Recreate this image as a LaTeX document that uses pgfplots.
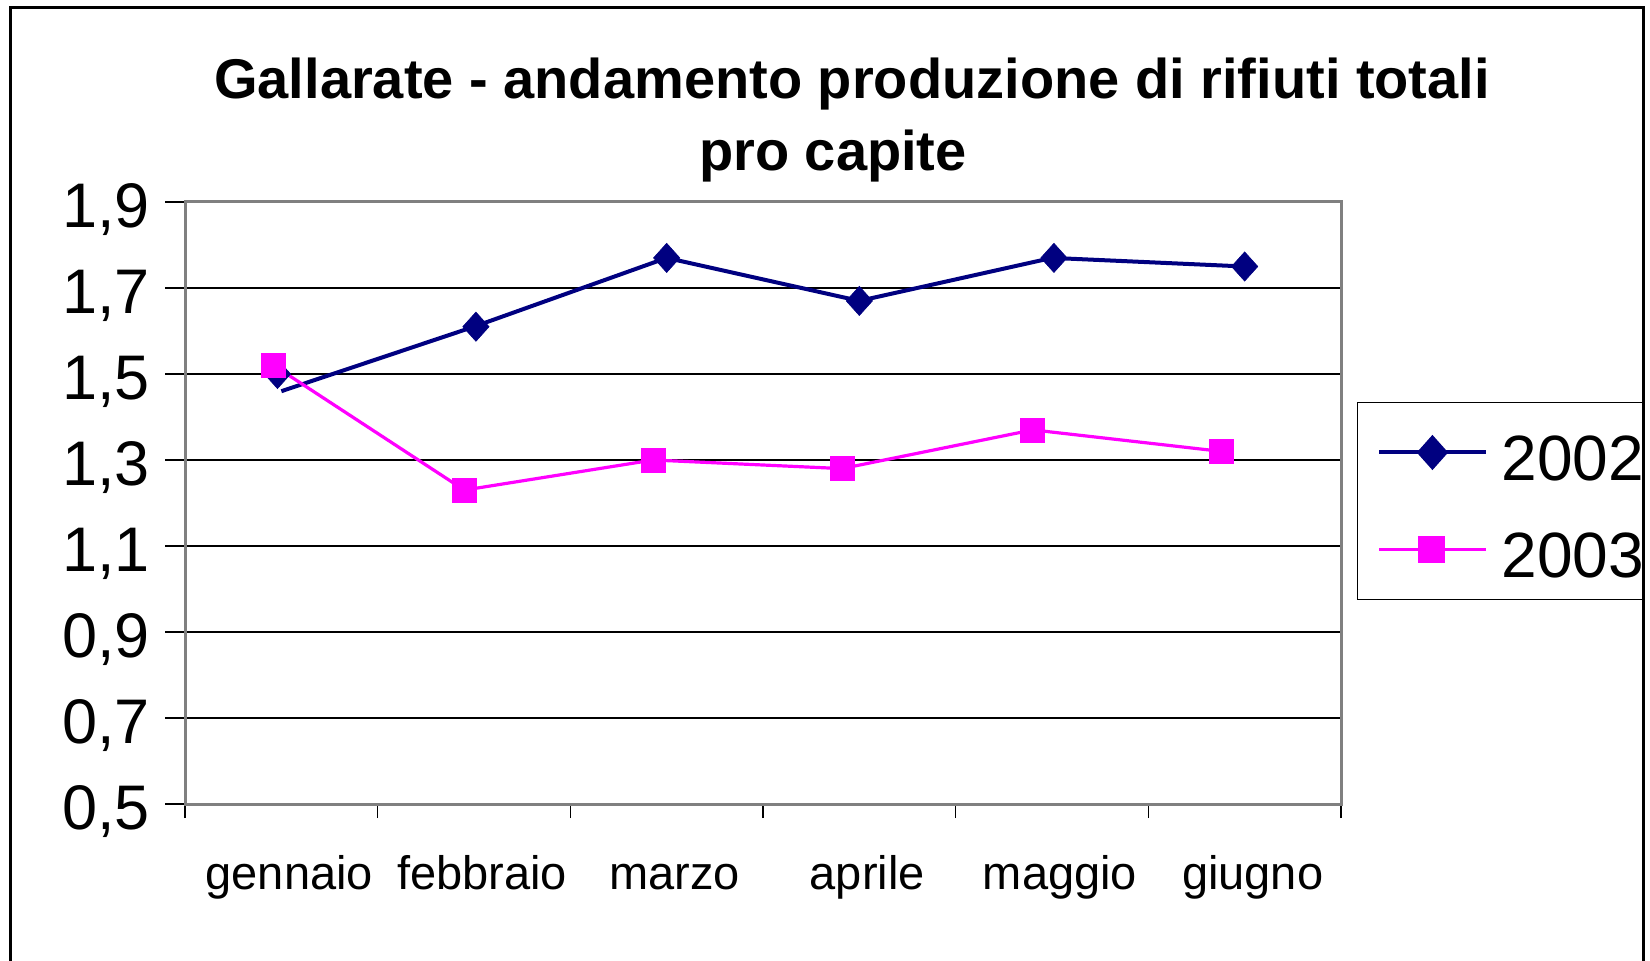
\documentclass[border=0pt]{standalone}
\usepackage{fontspec}
\setmainfont{Liberation Sans}
\usepackage{pgfplots}
\pgfplotsset{compat=1.18}

\definecolor{navy2002}{RGB}{0,0,128}
\definecolor{mag2003}{RGB}{255,0,255}
\definecolor{axisgray}{RGB}{128,128,128}

\begin{document}
\begin{tikzpicture}
\useasboundingbox (0,0) rectangle (825pt,480pt);
\begin{scope}
\clip (5pt,0pt) rectangle (821.5pt,480pt);
\begin{axis}[
    at={(92.5pt,78pt)}, anchor=south west,
    scale only axis,
    width=578pt, height=301pt,
    xmin=0.5, xmax=6.5,
    ymin=0.5, ymax=1.9,
    ytick={0.5,0.7,0.9,1.1,1.3,1.5,1.7,1.9},
    xtick={1,2,3,4,5,6},
    xticklabels={gennaio,febbraio,marzo,aprile,maggio,giugno},
    minor xtick={0.5,1.5,2.5,3.5,4.5,5.5,6.5},
    xtick pos=bottom, ytick pos=left,
    tick align=outside,
    major tick length=10pt,
    minor tick length=7pt,
    major x tick style={draw=none},
    minor x tick style={black, line width=0.6pt},
    y tick style={black, line width=0.6pt},
    ymajorgrids,
    major grid style={black, line width=0.6pt},
    axis line style={axisgray, line width=1.5pt},
    /pgf/number format/assume math mode=true,
    yticklabel style={font=\fontsize{31.5}{36}\selectfont, anchor=east, inner sep=0pt,
        xshift=-7.5pt, yshift=-4pt,
        /pgf/number format/.cd, fixed, fixed zerofill, precision=1, use comma},
    xticklabel style={font=\fontsize{23.5}{28}\selectfont, anchor=base, inner sep=0pt,
        yshift=-32.5pt, xshift=4pt},
    title={Gallarate - andamento produzione di rifiuti totali\\pro capite\hspace*{19pt}},
    title style={font=\bfseries\fontsize{28}{36}\selectfont, align=center,
        at={(axis description cs:0.577,1.116)}, anchor=center},
    legend style={at={(axis description cs:1.0138,0.6678)}, anchor=north west,
        draw=black, line width=0.5pt, inner xsep=10pt, inner ysep=9pt,
        font=\fontsize{32}{36}\selectfont, row sep=16.5pt, column sep=4.5pt,
        nodes={inner sep=2pt, text height=28pt, text depth=0pt}},
    legend cell align=left,
]
% 2002: line
\addplot[navy2002, line width=2pt,
    legend image code/.code={
        \draw[navy2002, line width=2pt] (0pt,0pt) -- (53.5pt,0pt);
        \fill[navy2002] (26.5pt,7.3pt) -- (33pt,0pt) -- (26.5pt,-7.3pt) -- (20pt,0pt) -- cycle;
    }]
    coordinates {(1,1.46) (2,1.61) (3,1.77) (4,1.67) (5,1.77) (6,1.75)};
% 2002: marks
\addplot[navy2002, draw=none, mark=diamond*, mark size=7.3pt,
    mark options={fill=navy2002, draw=navy2002, line width=0.3pt, xscale=1.2}, forget plot]
    coordinates {(0.98,1.50) (2.01,1.61) (3,1.77) (4,1.67) (5.01,1.77) (6,1.75)};
% 2003
\addplot[mag2003, line width=1.6pt, mark=square*, mark size=6pt,
    mark options={fill=mag2003, draw=mag2003, line width=0.3pt},
    legend image code/.code={
        \draw[mag2003, line width=1.6pt] (0pt,0pt) -- (53.5pt,0pt);
        \fill[mag2003] (20pt,-6pt) rectangle (32pt,6pt);
    }]
    coordinates {(0.96,1.52) (1.95,1.23) (2.93,1.30) (3.91,1.28) (4.90,1.37) (5.88,1.32)};
\legend{2002,2003}
\end{axis}
\end{scope}
\draw[black, line width=1.5pt] (5pt,-10pt) rectangle (821.5pt,476pt);
\end{tikzpicture}
\end{document}
